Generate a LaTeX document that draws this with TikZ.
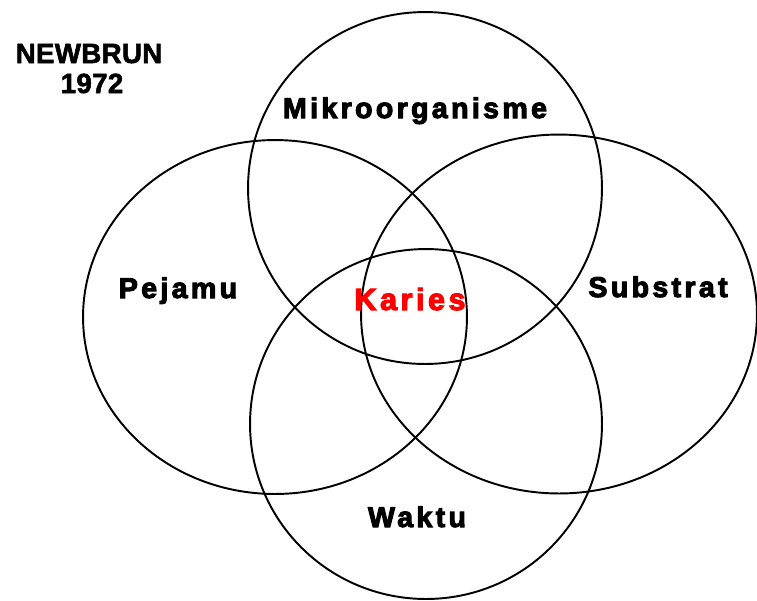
\documentclass[tikz,border=0pt]{standalone}
\usepackage{fontspec}
\setmainfont{Liberation Sans}
\newfontfamily\wordfont{Liberation Sans}[LetterSpace=11.5, FakeBold=3.5]
\newfontfamily\capsfont{Liberation Sans}[LetterSpace=1, FakeBold=2]
\tikzset{
  ring/.style={draw=black, line width=1.1pt},
  word/.style={anchor=base, inner sep=0pt, font=\wordfont\bfseries\fontsize{16.3}{19}\selectfont},
  caps/.style={anchor=base, inner sep=0pt, font=\capsfont\bfseries\fontsize{15.8}{19}\selectfont}
}
\begin{document}
\begin{tikzpicture}[x=0.02cm, y=-0.02cm]
    \useasboundingbox (0,0) rectangle (757,600);

    % the four circles
    \draw[ring] (425,188) ellipse [x radius=3.54cm, y radius=3.52cm];
    \draw[ring] (275,317) ellipse [x radius=3.84cm, y radius=3.54cm];
    \draw[ring] (559,314) ellipse [x radius=3.96cm, y radius=3.59cm];
    \draw[ring] (426,424) ellipse [x radius=3.52cm, y radius=3.50cm];

    % title
    \node[caps] (newbrun) at (89,63) {NEWBRUN};
    \node[caps] (year) at (92,93) {1972};

    % factors
    \node[word] (mikro) at (415,118) {Mikroorganisme};
    \node[word] (pejamu) at (178,298) {Pejamu};
    \node[word] (substrat) at (658,297) {Substrat};
    \node[word] (waktu) at (417,527) {Waktu};

    % centre
    \node[word, red, font=\wordfont\bfseries\fontsize{17.4}{20}\selectfont] (karies) at (410,310) {Karies};
  \end{tikzpicture}
\end{document}
